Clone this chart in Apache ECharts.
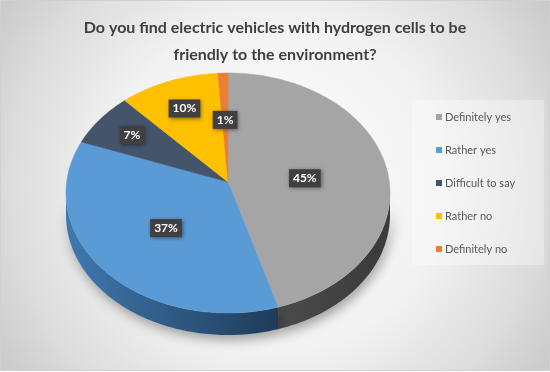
<!DOCTYPE html>
<html><head><meta charset="utf-8">
<script src="https://cdn.jsdelivr.net/npm/echarts@6/dist/echarts.min.js"></script>
<style>html,body{margin:0;padding:0;background:#fff}#c{width:550px;height:372px;}</style>
</head><body><div id="c"></div>
<script>
// ---- data ----
const categories = ['Definitely yes', 'Rather yes', 'Difficult to say', 'Rather no', 'Definitely no'];
const values = [45, 37, 7, 10, 1];
const valueLabels = ['45%', '37%', '7%', '10%', '1%'];
const titleText = 'Do you find electric vehicles with hydrogen cells to be\nfriendly to the environment?';

// ---- styles / layout ----
const topColors = ['#A5A5A5', '#5B9BD5', '#44546A', '#FFC000', '#ED7D31'];
const sideColors = [['#4b4b4b', '#3a3a3a'], ['#4079b0', '#1f3b59'], ['#2c3746', '#222a36'], ['#b38600', '#8a6800'], ['#b35d22', '#8a4719']];
const labelFrac = [0.48, 0.51, 0.75, 0.73, 0.57];
const geo = { cx: 228, cy: 193, rx: 162, ry: 120, ax: 228, ay: 182, depth: 22 };

const total = values.reduce((a, b) => a + b, 0);
const starts = []; let acc = 0;
values.forEach(v => { starts.push(acc / total * 2 * Math.PI); acc += v; });
function rim(t, dy) { return [geo.cx + geo.rx * Math.sin(t), geo.cy - geo.ry * Math.cos(t) + (dy || 0)]; }
function arcPts(a0, a1, dy) {
  const pts = []; const n = Math.max(2, Math.ceil(Math.abs(a1 - a0) / 0.02));
  for (let k = 0; k <= n; k++) pts.push(rim(a0 + (a1 - a0) * k / n, dy));
  return pts;
}

function renderSide(params, api) {
  const i = params.dataIndex;
  const a0 = starts[i], a1 = a0 + api.value(1) / total * 2 * Math.PI;
  const s = Math.max(a0, Math.PI / 2), e = Math.min(a1, 3 * Math.PI / 2);
  if (e <= s) return { type: 'group', children: [] };
  const pts = arcPts(s, e, 0).concat(arcPts(e, s, geo.depth));
  return {
    type: 'polygon', shape: { points: pts },
    style: {
      fill: { type: 'linear', x: 0, y: 0, x2: 1, y2: 0, colorStops: [{ offset: 0, color: sideColors[i][0] }, { offset: 1, color: sideColors[i][1] }] },
      shadowBlur: 12, shadowColor: 'rgba(0,0,0,0.35)', shadowOffsetX: 2, shadowOffsetY: 5
    }
  };
}

function renderTop(params, api) {
  const i = api.value(0);
  const a0 = starts[i], a1 = a0 + api.value(1) / total * 2 * Math.PI;
  const pts = [[geo.ax, geo.ay]].concat(arcPts(a0, a1, 0));
  const r = rim((a0 + a1) / 2, 0);
  const lx = geo.ax + labelFrac[i] * (r[0] - geo.ax);
  const ly = geo.ay + labelFrac[i] * (r[1] - geo.ay);
  return {
    type: 'group', children: [
      { type: 'polygon', shape: { points: pts }, style: { fill: topColors[i], stroke: topColors[i], lineWidth: 0.5 } },
      {
        type: 'text', x: lx, y: ly, z2: 100,
        style: {
          text: valueLabels[i], fill: '#ffffff', font: 'bold 12px Lato', align: 'center', verticalAlign: 'middle',
          backgroundColor: '#404040', padding: [3, 4, 3, 4],
          shadowBlur: 4, shadowColor: 'rgba(0,0,0,0.45)', shadowOffsetX: 1, shadowOffsetY: 1
        }
      }
    ]
  };
}

const series = [{
  type: 'custom', name: 'sides', coordinateSystem: 'none', silent: true, z: 1,
  data: values.map((v, i) => [i, v]), renderItem: renderSide
}];
categories.forEach((c, i) => {
  series.push({
    type: 'custom', name: c, coordinateSystem: 'none', silent: true, z: 2,
    itemStyle: { color: topColors[i] },
    data: [[i, values[i]]], renderItem: renderTop
  });
});

const chart = echarts.init(document.getElementById('c'), null, { renderer: 'canvas' });
chart.setOption({
  animation: false,
  graphic: [{
    type: 'rect', z: -10, silent: true, shape: { x: 0.5, y: 0.5, width: 549, height: 370 },
    style: {
      fill: { type: 'radial', x: 0.5, y: 0.5, r: 0.9, colorStops: [{ offset: 0, color: '#ffffff' }, { offset: 0.5, color: '#f2f2f2' }, { offset: 0.8, color: '#dcdcdc' }, { offset: 1, color: '#c8c8c8' }] },
      stroke: '#d0d0d0', lineWidth: 1
    }
  }],
  title: {
    text: titleText, left: 'center', top: 9,
    textStyle: { fontFamily: 'Lato', fontWeight: 'bold', fontSize: 16, color: '#404040', lineHeight: 27 }
  },
  legend: {
    data: categories, orient: 'vertical', left: 412, top: 100,
    padding: [10, 29, 9, 24], itemGap: 19, itemWidth: 6, itemHeight: 6, icon: 'rect',
    backgroundColor: 'rgba(255,255,255,0.35)',
    selectedMode: false,
    textStyle: { fontFamily: 'Lato', fontSize: 11, color: '#595959', lineHeight: 14, padding: [0, 0, 0, -2] }
  },
  series: series
});
</script></body></html>
